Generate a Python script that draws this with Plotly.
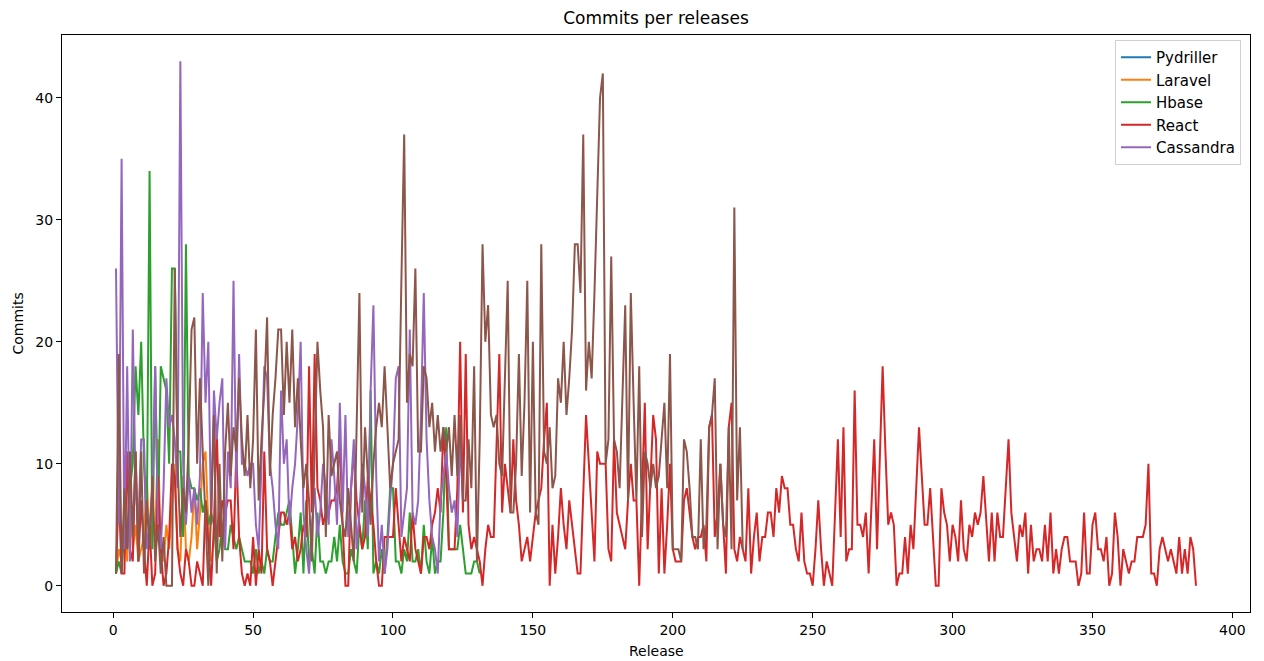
import plotly.graph_objects as go

# ---------------- data ----------------
pydriller = [1]
laravel = [1,3,2,6,2,8,3,5,2,3, 4,9,3,5,4,12,3,2,5,3, 7,10,3,2,9,3,2,4,8,3, 6,10,11,5,2]
hbase = [1,2,1,5,3,8,10,18,14,20, 10,5,34,3,18,5,18,17,16,10,
         26,26,11,11,4,28,9,8,8,7, 8,6,7,5,6,5,2,3,5,3,
         3,5,4,3,4,3,2,2,2,1, 3,1,2,1,3,2,2,4,6,5,
         5,6,7,4,1,3,6,1,7,2, 3,1,6,2,2,1,2,2,4,2,
         5,2,1,1,3,2,1,5,3,7, 3,16,1,2,1,3,1,4,8,8,
         2,2,1,3,2,6,2,2,3,1, 5,2,1,4,1,2,2,6,13,3,
         3,3,3,5,3,1,1,1,2,2,1]
react = [1,8,1,1,11,3,2,11,2,7, 3,0,5,0,1,9,3,0,1,4,
         10,9,3,1,0,3,2,0,0,2, 1,0,7,3,0,5,13,4,7,6,
         7,7,3,11,4,1,0,1,0,4, 0,3,1,11,3,2,0,2,4,6,
         6,5,6,3,4,2,3,5,4,18, 6,19,8,7,5,6,6,7,7,8,
         12,5,0,0,8,11,7,5,3,4, 9,7,5,2,0,0,4,4,4,4,
         8,5,2,4,3,2,6,3,2,1, 4,4,3,5,6,8,6,13,9,3,
         3,3,8,20,6,19,5,3,4,3, 2,0,3,5,4,4,12,19,6,10,
         8,6,12,7,5,2,3,4,2,4, 6,7,8,12,15,0,5,1,4,8,
         5,3,7,5,3,1,1,7,14,10, 6,2,11,10,10,10,3,2,12,6,
         5,4,3,7,10,7,7,0,7,15, 3,9,14,12,1,8,1,5,10,3,
         2,2,2,7,8,6,4,3,4,4, 5,2,13,14,4,6,10,5,1,13,
         15,3,2,4,3,2,8,1,4,6, 2,4,4,6,6,4,8,6,9,8,
         8,5,5,3,2,6,2,1,1,0, 3,7,3,0,2,1,0,6,12,4,
         13,2,3,3,16,5,5,4,6,1, 6,12,3,10,18,11,5,6,5,0,
         1,1,4,1,5,3,8,13,9,5, 5,8,4,0,0,8,6,5,2,5,
         4,2,7,3,2,5,4,6,5,6, 9,5,2,6,2,6,4,4,8,12,
         6,4,2,5,4,6,1,5,2,3, 3,2,5,2,6,1,3,1,3,4,
         4,2,2,2,0,1,6,1,1,5, 6,3,3,2,4,0,1,6,4,0,
         3,2,1,2,2,4,4,4,5,10, 1,1,0,3,4,3,2,3,2,1,
         4,1,3,1,4,3,0]
cassandra = [26,5,35,3,18,2,21,8,5,12, 12,3,5,8,18,5,3,8,17,13,
             14,12,8,43,10,5,9,6,8,5, 9,24,15,20,5,16,12,15,17,3,
             11,8,25,8,19,10,10,9,10,10, 5,3,10,18,17,10,8,5,3,16,
             10,12,5,8,10,14,20,6,3,1, 5,8,4,6,10,8,5,12,9,5,
             15,6,14,4,8,12,3,6,10,8, 4,16,23,9,2,5,1,3,7,10,
             17,18,4,6,8,21,6,5,7,14, 24,12,7,4,3,1,7,9,11,8,
             6,7,4,12,7]
unlabelled = [1,19,1,8,3,11,4,11,2,11, 1,7,3,9,2,5,1,4,0,0,
              0,26,10,4,8,6,12,21,22,10, 17,11,5,0,6,14,1,10,2,11,
              15,9,13,11,17,12,9,14,8,12, 21,7,12,16,22,9,14,17,21,21,
              14,20,15,21,13,17,12,8,10,7, 2,10,20,16,13,4,14,9,10,11,
              7,5,4,8,5,2,13,24,6,13, 9,5,10,13,15,13,18,13,8,10,
              11,12,25,37,15,19,18,26,11,11, 18,17,13,15,11,14,11,13,11,13,
              9,14,9,14,7,7,12,8,18,2, 12,28,20,23,14,13,14,10,9,17,
              25,6,6,10,19,9,15,25,6,20, 6,5,28,11,10,13,8,9,17,15,
              20,14,17,21,28,28,24,37,16,20, 17,24,32,40,42,10,12,27,12,11,
              8,15,23,7,24,15,7,18,4,11, 10,8,10,8,9,12,15,8,19,3,
              3,3,2,12,11,8,4,4,3,12, 3,5,13,14,17,3,10,5,4,13,
              3,31,7,13,3]

series = [
    ("Pydriller", pydriller, "#1f77b4", True),
    ("Laravel", laravel, "#ff7f0e", True),
    ("Hbase", hbase, "#2ca02c", True),
    ("React", react, "#d62728", True),
    ("Cassandra", cassandra, "#9467bd", True),
    ("", unlabelled, "#8c564b", False),
]

FONT = "DejaVu Sans, Arial, sans-serif"

# page body has an 8px margin, so the figure is sized to fit the window
W, H = 1256, 653
L, R, T, B = 54, 14, 27, 49

fig = go.Figure()
for name, vals, color, show in series:
    fig.add_trace(go.Scatter(
        x=list(range(1, len(vals) + 1)), y=vals, mode="lines", name=name,
        line=dict(color=color, width=2), showlegend=show,
    ))

axis_common = dict(
    showgrid=False, zeroline=False, showline=True, mirror=True,
    linecolor="black", linewidth=1, ticks="outside", ticklen=5,
    tickcolor="black", tickfont=dict(size=14, color="black", family=FONT),
)

plot_w = W - L - R
plot_h = H - T - B

fig.update_layout(
    width=W, height=H,
    margin=dict(l=L, r=R, t=T, b=B),
    paper_bgcolor="white", plot_bgcolor="white",
    font=dict(family=FONT, color="black"),
    title=dict(text="Commits per releases", x=(L + plot_w / 2) / W, xanchor="center",
               y=1 - 10 / H, yanchor="middle", yref="container",
               font=dict(size=17, color="black", family=FONT)),
    xaxis=dict(range=[-18.3, 406.3], tickvals=[0, 50, 100, 150, 200, 250, 300, 350, 400], **axis_common),
    yaxis=dict(range=[-2.15, 45.15], tickvals=[0, 10, 20, 30, 40], **axis_common),
    legend=dict(x=1 - 9 / plot_w, y=1 - 5 / plot_h, xanchor="right", yanchor="top",
                bgcolor="white", bordercolor="#d0d0d0", borderwidth=1,
                font=dict(size=15, family=FONT, color="black"),
                tracegroupgap=0),
    annotations=[
        dict(text="Release", xref="paper", yref="paper", x=0.5, y=-39 / plot_h,
             xanchor="center", yanchor="middle", showarrow=False,
             font=dict(size=14, family=FONT, color="black")),
        dict(text="Commits", xref="paper", yref="paper", x=(9 - L) / plot_w, y=0.5,
             xanchor="center", yanchor="middle", showarrow=False, textangle=-90,
             font=dict(size=14, family=FONT, color="black")),
    ],
)

fig.write_html("out.html")
